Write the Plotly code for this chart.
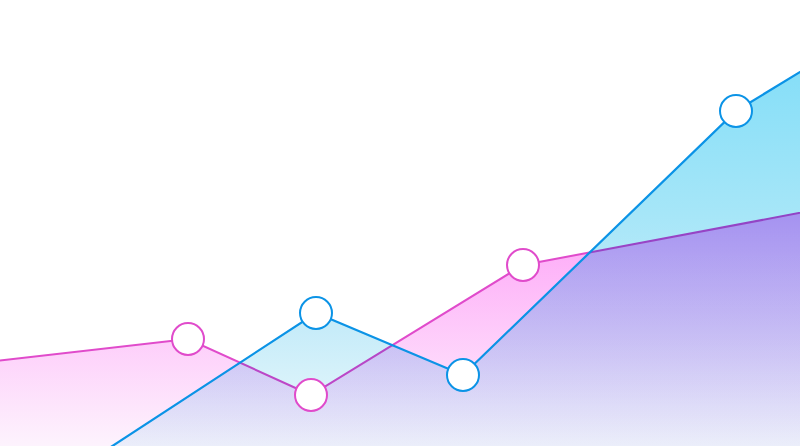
import plotly.graph_objects as go

# Series values; points outside the visible range
# make the lines run in from / out to the edges
pink_x = [-30, 188, 311, 523, 900]
pink_y = [82, 107, 51, 181, 252]

blue_x = [-30, 316, 463, 736, 900]
blue_y = [-93, 133, 71, 335, 435]

x_range = [0, 800]
y_range = [0, 446]

pink_line = "#e04bcb"
blue_line = "#0b93e6"

pink_scale = [[0, "rgb(253,243,253)"], [1, "rgb(255,88,242)"]]
blue_scale = [
    [0, "rgb(237,250,252)"],
    [0.26, "rgb(199,236,249)"],
    [0.52, "rgb(166,230,248)"],
    [0.78, "rgb(140,224,248)"],
    [1, "rgb(120,218,247)"],
]

fig = go.Figure()

# Area traces (pink first, blue over it)
fig.add_trace(go.Scatter(
    x=pink_x, y=pink_y, mode="lines",
    line=dict(color=pink_line, width=2),
    fill="tozeroy",
    fillgradient=dict(type="vertical", colorscale=pink_scale,
                      start=y_range[0], stop=y_range[1]),
    hoverinfo="skip",
))
fig.add_trace(go.Scatter(
    x=blue_x, y=blue_y, mode="lines",
    line=dict(color=blue_line, width=2.2),
    fill="tozeroy",
    fillgradient=dict(type="vertical", colorscale=blue_scale,
                      start=y_range[0], stop=y_range[1]),
    hoverinfo="skip",
))

# Markers on top of every fill
fig.add_trace(go.Scatter(
    x=pink_x, y=pink_y, mode="markers",
    marker=dict(size=32, color="white", line=dict(color=pink_line, width=2)),
    hoverinfo="skip",
))
fig.add_trace(go.Scatter(
    x=blue_x, y=blue_y, mode="markers",
    marker=dict(size=32, color="white", line=dict(color=blue_line, width=2)),
    hoverinfo="skip",
))

fig.update_layout(
    width=800, height=446,
    margin=dict(l=0, r=0, t=0, b=0),
    paper_bgcolor="white",
    plot_bgcolor="white",
    showlegend=False,
    xaxis=dict(range=x_range, visible=False, fixedrange=True),
    yaxis=dict(range=y_range, visible=False, fixedrange=True),
)

# no page margin; blue area multiplies with what lies below it (purple overlap)
post = """
document.body.style.margin = '0';
var tr = document.querySelectorAll('.scatterlayer .trace');
if (tr.length > 1) {
  tr[1].querySelectorAll('.js-fill').forEach(function (p) {
    p.style.mixBlendMode = 'multiply';
  });
}
"""

fig.write_html("out.html", config={"displayModeBar": False}, post_script=post)
